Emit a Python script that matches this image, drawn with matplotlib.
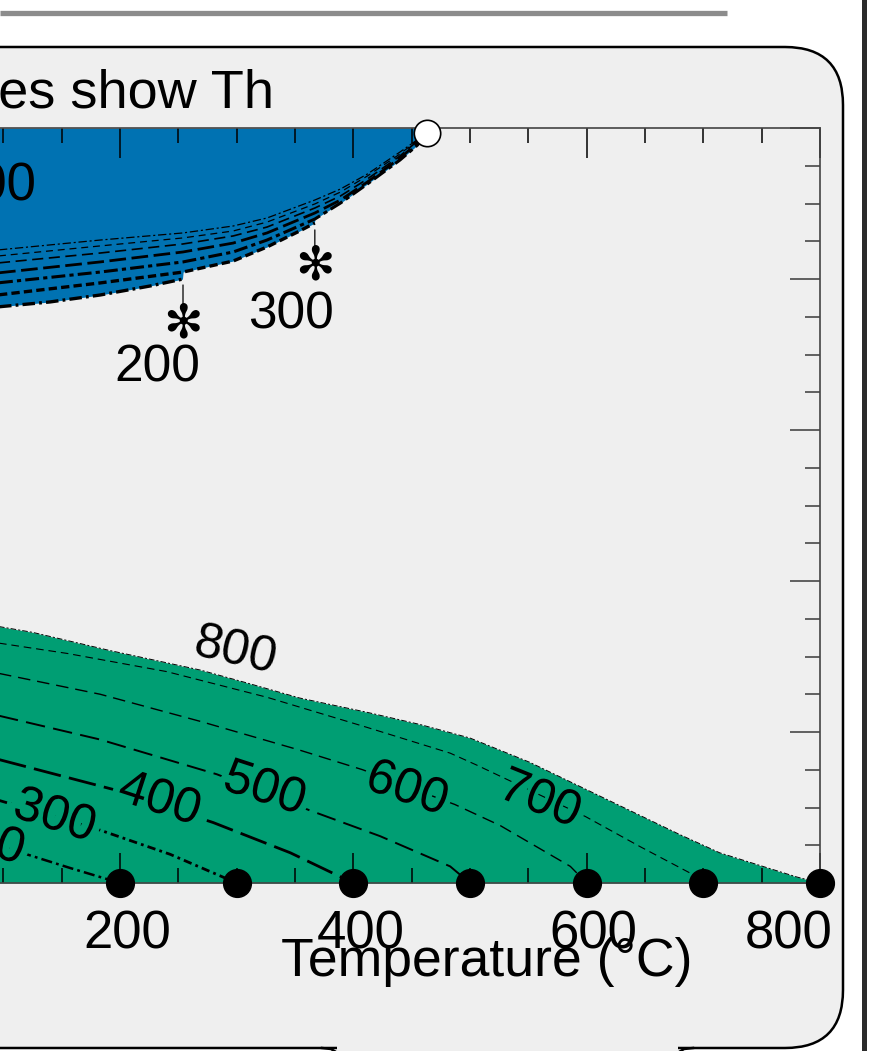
import numpy as np
import matplotlib
matplotlib.use("Agg")
import matplotlib.pyplot as plt
from matplotlib.patches import FancyBboxPatch, Rectangle
from matplotlib.ticker import MultipleLocator
import matplotlib.patheffects as pe
import matplotlib.transforms as mtrans

plt.rcParams['font.family'] = ['Liberation Sans', 'DejaVu Sans']
plt.rcParams['lines.scale_dashes'] = False

# ---------------- data (Temperature degC, Pressure) ----------------
th_values = [200, 300, 400, 500, 600, 700, 800]

# lower (green) field: isochores ending on the T axis
t800 = [95, 125, 191, 269, 311, 354, 412, 457, 500, 551, 594, 637, 680, 714, 751, 780, 800]
p800 = [1.70, 1.66, 1.54, 1.41, 1.32, 1.225, 1.13, 1.05, 0.96, 0.80, 0.64, 0.48, 0.32, 0.20, 0.11, 0.04, 0.0]
t700 = [95, 155, 240, 326, 412, 483, 506, 599, 646, 695, 700]
p700 = [1.59, 1.52, 1.40, 1.23, 1.03, 0.86, 0.78, 0.44, 0.24, 0.04, 0.0]
t600 = [95, 183, 269, 354, 408, 487, 526, 586, 600]
p600 = [1.39, 1.25, 1.07, 0.88, 0.75, 0.52, 0.38, 0.11, 0.0]
t500 = [95, 183, 283, 363, 423, 483, 500]
p500 = [1.11, 0.95, 0.72, 0.48, 0.31, 0.11, 0.0]
t400 = [95, 194, 280, 346, 400]
p400 = [0.82, 0.62, 0.40, 0.20, 0.0]
t300 = [95, 183, 243, 300]
p300 = [0.55, 0.35, 0.19, 0.0]
t200 = [95, 120, 157, 200]
p200 = [0.25, 0.19, 0.10, 0.0]

# upper (blue) field: curves converging on the critical point
t_crit, p_crit = 463, 4.97
tg = [95, 140, 183, 226, 254]
pg = [3.815, 3.848, 3.894, 3.954, 4.000]
tf = [95, 183, 254, 297, 326, 354, 367]
pf = [3.894, 3.974, 4.046, 4.119, 4.212, 4.318, 4.371]
te = [95, 183, 254, 297, 326, 367, 389, 412, 440, 455, 463]
pe_ = [3.974, 4.046, 4.113, 4.179, 4.258, 4.397, 4.503, 4.629, 4.788, 4.887, 4.967]
td = [95, 183, 254, 297, 326, 367, 389, 412, 440, 455, 463]
pd = [4.040, 4.113, 4.179, 4.238, 4.305, 4.437, 4.523, 4.642, 4.801, 4.901, 4.967]
tabc = [95, 183, 254, 297, 326, 367, 389, 412, 440, 463]
pc = [4.106, 4.172, 4.232, 4.285, 4.344, 4.470, 4.550, 4.662, 4.815, 4.967]
pb = [4.152, 4.219, 4.272, 4.318, 4.377, 4.497, 4.576, 4.682, 4.828, 4.967]
pa = [4.192, 4.258, 4.305, 4.351, 4.404, 4.523, 4.596, 4.695, 4.841, 4.967]

xticks = [0, 200, 400, 600, 800]
xlabels = ['0', '200', '400', '600', '800']

BLUE = '#0072B2'
GREEN = '#009E73'
PANEL = '#efefef'

# ---------------- figure ----------------
fig = plt.figure(figsize=(8.8, 10.51), dpi=100)
fig.patch.set_facecolor('white')

bg = fig.add_axes([0, 0, 1, 1])
bg.set_xlim(0, 880)
bg.set_ylim(1051, 0)
bg.axis('off')
bg.set_zorder(0)

bg.plot([0, 727], [13, 13], color='#8c8c8c', lw=3.8, solid_capstyle='butt')
panel = FancyBboxPatch((-100, 47), 943, 1001,
                       boxstyle='round,pad=0,rounding_size=58',
                       fc=PANEL, ec='black', lw=1.8)
bg.add_patch(panel)
bg.add_patch(Rectangle((337, 1040), 341, 20, fc=PANEL, ec='none', zorder=3))
bg.plot([322, 331, 336], [1048, 1049, 1052], color='black', lw=1.8, zorder=4)
bg.plot([679, 684, 693], [1052, 1049, 1048], color='black', lw=1.8, zorder=4)
bg.add_patch(Rectangle((862, 0), 5, 1051, fc='#2b2b2b', ec='none'))
bg.text(274, 107, 'Lines show Th', fontsize=39, ha='right', va='baseline')

# main axes (left part lies outside the visible area)
L = -113.33 / 880
B = (1051 - 883) / 1051
W = 933.33 / 880
H = 755 / 1051
ax = fig.add_axes([L, B, W, H])
ax.set_zorder(1)
ax.patch.set_visible(False)
ax.set_xlim(0, 800)
ax.set_ylim(0, 5)

# fills
ax.fill_between(t800, 0, p800, color=GREEN, lw=0, zorder=1)

grid = np.linspace(tg[0], t_crit, 600)
def on_grid(t, p):
    v = np.interp(grid, t, p)
    v[(grid < t[0]) | (grid > t[-1])] = np.nan
    return v
lower = np.nanmin(np.vstack([on_grid(tg, pg), on_grid(tf, pf), on_grid(te, pe_)]), axis=0)
ax.fill_between(grid, lower, 5, color=BLUE, lw=0, zorder=1)

# green isochores
green_lines = [
    (t800, p800, (4, 1.5, 1.5, 1.5), 0.7),
    (t700, p700, (5.5, 3.5), 0.8),
    (t600, p600, (9, 5), 1.0),
    (t500, p500, (14, 6), 1.4),
    (t400, p400, (20, 6), 2.0),
    (t300, p300, (6, 3, 2, 3), 2.0),
    (t200, p200, (8, 3, 2, 3), 1.8),
]
for t, p, ds, lw in green_lines:
    ax.plot(t, p, color='black', lw=lw, dashes=ds, zorder=2)

# blue curves
blue_lines = [
    (tabc, pa, (6, 2, 1.5, 2), 0.9),
    (tabc, pb, (5, 3.5), 0.9),
    (tabc, pc, (8, 4), 1.2),
    (td, pd, (12, 4), 2.0),
    (te, pe_, (10, 3, 3, 3), 2.2),
    (tf, pf, (6, 3), 2.4),
    (tg, pg, (9, 3, 2, 3), 2.4),
]
for t, p, ds, lw in blue_lines:
    ax.plot(t, p, color='black', lw=lw, dashes=ds, zorder=2)

# markers
ax.plot(th_values, np.zeros(len(th_values)), 'o', ms=20, color='black',
        clip_on=False, zorder=6)
ax.plot([t_crit], [p_crit], 'o', ms=19, mfc='white', mec='black', mew=1.2,
        clip_on=False, zorder=7)

# labels on green isochores (inline, masking the line underneath)
green_labels = [('300', 144, 0.44, -18, 10), ('400', 234, 0.55, -18, 10),
                ('500', 324, 0.62, -18, 10), ('600', 446, 0.62, -19, 8),
                ('700', 560, 0.55, -22, 5), ('200', 83, 0.29, -18, 10)]
for s, x, y, r, sw in green_labels:
    ax.text(x, y, s, fontsize=36, rotation=r, ha='center', va='center',
            rotation_mode='anchor',
            path_effects=[pe.withStroke(linewidth=sw, foreground=GREEN)], zorder=5)
ax.text(299, 1.53, '800', fontsize=36, rotation=-13, ha='center', va='center',
        rotation_mode='anchor', zorder=5)
ax.text(90, 4.61, '100', fontsize=38, ha='center', va='center', zorder=5)

# end-point annotations in the blue field
for t, p, lead, shr, star, tx, ty, lab in [
        (tg[-1], pg[-1], -20.0, 4.3, -33.0, -18.7, -64.0, '200'),
        (tf[-1], pf[-1], -17.3, 5.0, -31.7, -17.3, -66.2, '300')]:
    ax.annotate('', xy=(t, p), xytext=(0, lead), textcoords='offset points',
                arrowprops=dict(arrowstyle='-', lw=0.9, color='black',
                                shrinkA=0, shrinkB=shr), zorder=5)
    ax.annotate('\u273B', xy=(t, p), xytext=(0, star), textcoords='offset points',
                ha='center', va='center', fontsize=34, family='DejaVu Sans', zorder=5)
    ax.annotate(lab, xy=(t, p), xytext=(tx, ty), textcoords='offset points',
                ha='center', va='center', fontsize=37, zorder=5)

# axes styling
for side in ['top', 'right', 'bottom']:
    ax.spines[side].set_color('#444444')
    ax.spines[side].set_linewidth(1.2)
ax.spines['left'].set_visible(False)

ax.set_xticks(xticks)
ax.set_xticklabels(xlabels)
ax.xaxis.set_minor_locator(MultipleLocator(50))
ax.yaxis.set_major_locator(MultipleLocator(1))
ax.yaxis.set_minor_locator(MultipleLocator(0.25))
ax.tick_params(axis='x', which='both', direction='in', top=True, bottom=True,
               color='black', width=1.1, labelsize=38, pad=19)
ax.tick_params(axis='x', which='major', length=21.6)
ax.tick_params(axis='x', which='minor', length=10.8)
ax.tick_params(axis='y', which='both', direction='in', left=True, right=True,
               labelleft=False, labelright=False, color='#555555', width=1.3)
ax.tick_params(axis='y', which='major', length=21.6)
ax.tick_params(axis='y', which='minor', length=10.8)

ticks = ax.xaxis.get_major_ticks()
for i, tk in enumerate(ticks):
    dx = -0.31 if i == len(ticks) - 1 else 0.07
    tk.label1.set_transform(tk.label1.get_transform() +
                            mtrans.ScaledTranslation(dx, 0, fig.dpi_scale_trans))

ax.set_xlabel('Temperature (°C)', fontsize=38.5)
ax.xaxis.set_label_coords(0.643, -0.104)
ax.xaxis.label.set_va('center')

fig.savefig('out.png', dpi=100, facecolor='white')
